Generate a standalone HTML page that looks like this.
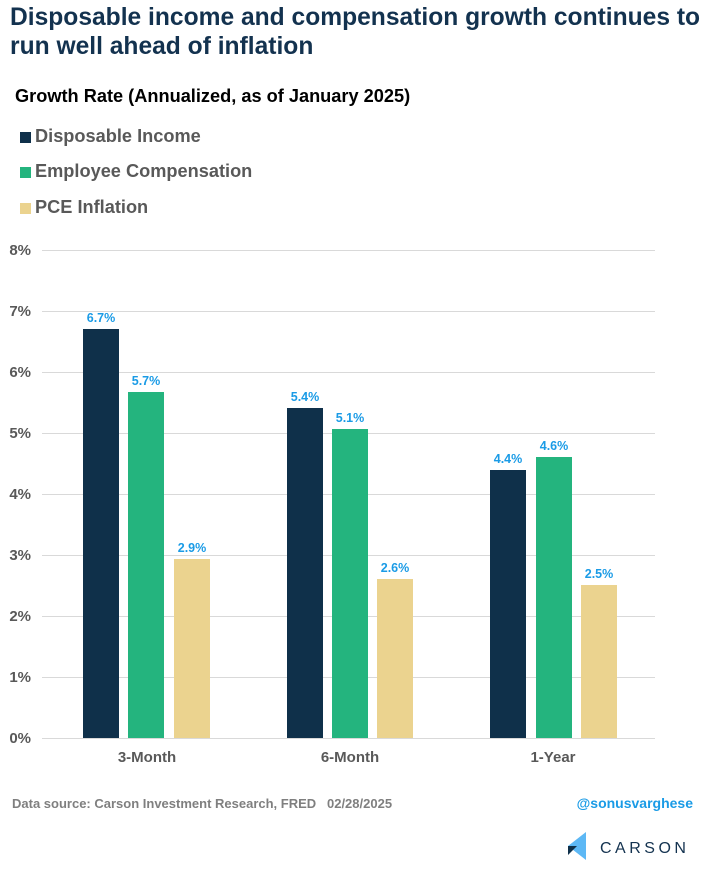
<!DOCTYPE html>
<html><head><style>
body{margin:0;width:708px;height:880px;background:#fff;font-family:"Liberation Sans",sans-serif;position:relative;overflow:hidden}
.a{position:absolute;white-space:nowrap}
</style></head><body>
<div class="a" style="left:10px;top:3px;font-size:24.6px;font-weight:bold;color:#13324f;line-height:29px">Disposable income and compensation growth continues to<br>run well ahead of inflation</div>
<div class="a" style="left:15px;top:86px;font-size:18.2px;font-weight:bold;color:#000">Growth Rate (Annualized, as of January 2025)</div>
<div class="a" style="left:20px;top:132px;width:11px;height:11px;background:#0f304a"></div>
<div class="a" style="left:35px;top:126px;font-size:18.2px;font-weight:bold;color:#595959">Disposable Income</div>
<div class="a" style="left:20px;top:167px;width:11px;height:11px;background:#24b47e"></div>
<div class="a" style="left:35px;top:161px;font-size:18.2px;font-weight:bold;color:#595959">Employee Compensation</div>
<div class="a" style="left:20px;top:203px;width:11px;height:11px;background:#ebd38f"></div>
<div class="a" style="left:35px;top:197px;font-size:18.2px;font-weight:bold;color:#595959">PCE Inflation</div>
<svg class="a" style="left:0;top:0" width="708" height="880">
<g stroke="#d9d9d9" stroke-width="1">
<line x1="42" x2="655" y1="250.5" y2="250.5"/><line x1="42" x2="655" y1="311.5" y2="311.5"/><line x1="42" x2="655" y1="372.5" y2="372.5"/><line x1="42" x2="655" y1="433.5" y2="433.5"/><line x1="42" x2="655" y1="494.5" y2="494.5"/><line x1="42" x2="655" y1="555.5" y2="555.5"/><line x1="42" x2="655" y1="616.5" y2="616.5"/><line x1="42" x2="655" y1="677.5" y2="677.5"/><line x1="42" x2="655" y1="738.5" y2="738.5"/>
</g>
<g font-size="15" font-weight="bold" fill="#595959" text-anchor="end">
<text x="31" y="255">8%</text><text x="31" y="316">7%</text><text x="31" y="377">6%</text><text x="31" y="438">5%</text><text x="31" y="499">4%</text><text x="31" y="560">3%</text><text x="31" y="621">2%</text><text x="31" y="682">1%</text><text x="31" y="743">0%</text>
</g>
<g>
<rect x="83" y="329" width="36" height="409" fill="#0f304a"/>
<rect x="128" y="392" width="36" height="346" fill="#24b47e"/>
<rect x="174" y="559" width="36" height="179" fill="#ebd38f"/>
<rect x="287" y="408" width="36" height="330" fill="#0f304a"/>
<rect x="332" y="429" width="36" height="309" fill="#24b47e"/>
<rect x="377" y="579" width="36" height="159" fill="#ebd38f"/>
<rect x="490" y="470" width="36" height="268" fill="#0f304a"/>
<rect x="536" y="457" width="36" height="281" fill="#24b47e"/>
<rect x="581" y="585" width="36" height="153" fill="#ebd38f"/>
</g>
<g font-size="12.5" font-weight="bold" fill="#1a9be6" text-anchor="middle">
<text x="101" y="322">6.7%</text><text x="146" y="385">5.7%</text><text x="192" y="552">2.9%</text>
<text x="305" y="401">5.4%</text><text x="350" y="422">5.1%</text><text x="395" y="572">2.6%</text>
<text x="508" y="463">4.4%</text><text x="554" y="450">4.6%</text><text x="599" y="578">2.5%</text>
</g>
<g font-size="15" font-weight="bold" fill="#595959" text-anchor="middle">
<text x="147" y="762">3-Month</text><text x="350" y="762">6-Month</text><text x="553" y="762">1-Year</text>
</g>
<text x="12" y="808" font-size="13" font-weight="bold" fill="#7f7f7f" xml:space="preserve">Data source: Carson Investment Research, FRED   02/28/2025</text>
<text x="693" y="808" font-size="14" font-weight="bold" fill="#1a9be6" text-anchor="end">@sonusvarghese</text>
<polygon points="586,832 568,846 586,860" fill="#5db8f5"/>
<polygon points="568,846 577,846 568,855" fill="#0f304a"/>
<text x="600" y="853" font-size="16" fill="#13324f" letter-spacing="3.5">CARSON</text>
</svg>
</body></html>
